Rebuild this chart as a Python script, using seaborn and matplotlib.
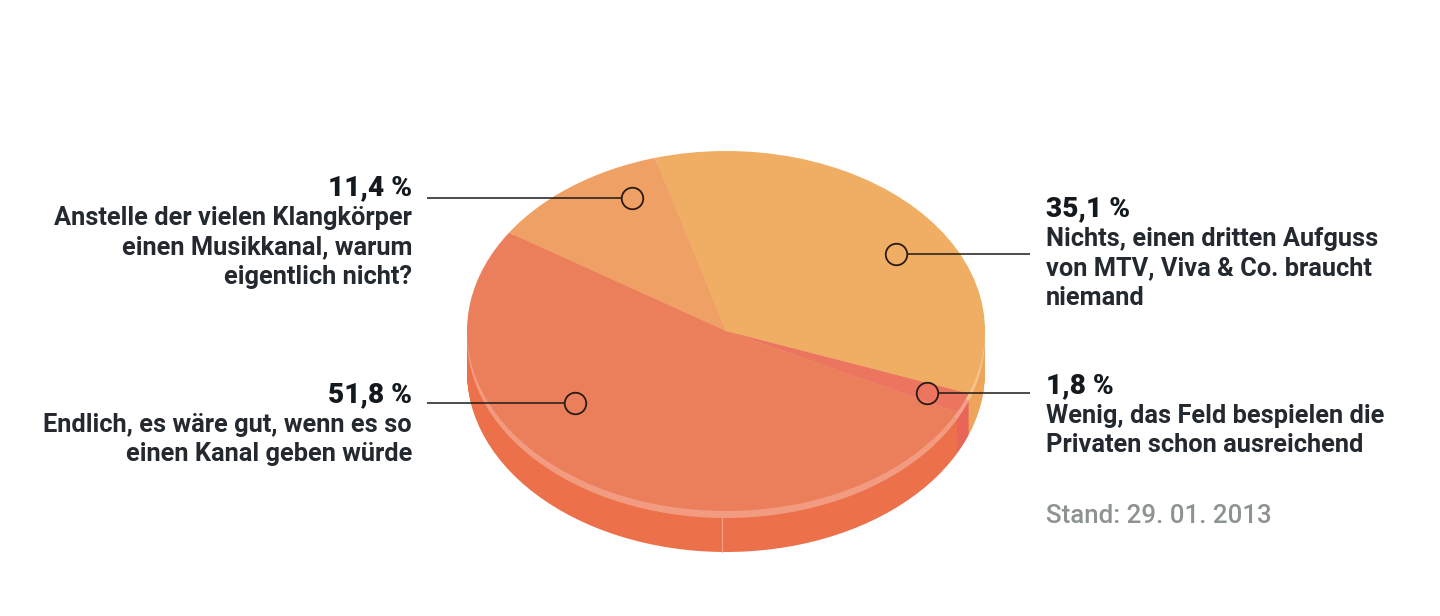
import matplotlib
matplotlib.use("Agg")
import matplotlib.pyplot as plt
import seaborn as sns

categories = ["Nichts, einen dritten Aufguss\nvon MTV, Viva & Co. braucht\nniemand",
              "Wenig, das Feld bespielen die\nPrivaten schon ausreichend",
              "Endlich, es wäre gut, wenn es so\neinen Kanal geben würde",
              "Anstelle der vielen Klangkörper\neinen Musikkanal, warum\neigentlich nicht?"]
values = [35.1, 1.8, 51.8, 11.4]
top_colors = ["#EFAE63", "#EC7560", "#EC7F5B", "#EFA064"]
side_colors = ["#EFA45C", "#E9655A", "#EC7049", "#EC7049"]
lip_colors = ["#F5C38F", "#F4A08A", "#F29B80", "#F29B80"]
note = "Stand: 29. 01. 2013"

sns.set_theme(style="white")
plt.rcParams["font.family"] = ["Roboto", "DejaVu Sans"]

W, H = 1440, 616
CX, CY, RX, RY = 726, 331, 259, 180
DEPTH, LIP = 41, 7
START = 105.9

fig = plt.figure(figsize=(W / 100, H / 100), dpi=100, facecolor="white")
ax = fig.add_axes([0, 0, 1, 1])


def disc(offset, colors):
    wedges, _ = ax.pie(values, colors=colors, startangle=START, counterclock=False,
                       center=(0, -offset / RY), radius=1,
                       wedgeprops={"linewidth": 0}, frame=True)
    return wedges


for off in range(DEPTH, LIP, -1):
    disc(off, side_colors)
disc(LIP, lip_colors)
disc(0, top_colors)

ax.set_aspect("auto")
ax.set_xlim(-CX / RX, (W - CX) / RX)
ax.set_ylim(-(H - CY) / RY, CY / RY)
ax.set_xticks([])
ax.set_yticks([])
for s in ax.spines.values():
    s.set_visible(False)

# overlay in pixel coordinates for annotation
ov = fig.add_axes([0, 0, 1, 1], facecolor="none")
ov.set_xlim(0, W)
ov.set_ylim(H, 0)
ov.axis("off")

# seam on the side of the disc
ov.plot([722, 722], [518, 552], color="#F3A58C", lw=0.8)

INK = "#23292F"
FS = 18.3
FP = 20.2


def pct(v):
    return f"{v:.1f}".replace(".", ",") + " %"


def block(x, y, ha, v, text):
    ov.text(x, y + 1, pct(v), ha=ha, va="center", fontsize=FP, fontweight="black", color="#14191E")
    for i, line in enumerate(text.split("\n")):
        ov.text(x, y + 31 + 29.5 * i, line, ha=ha, va="center", fontsize=FS,
                fontweight="semibold", color=INK)


block(1046, 208, "left", values[0], categories[0])
block(1046, 385, "left", values[1], categories[1])
block(412, 394, "right", values[2], categories[2])
block(412, 187, "right", values[3], categories[3])
ov.text(1046, 516, note, ha="left", va="center", fontsize=18.6, fontweight="medium", color="#8D9293")

for (x0, x1, y, cx) in [(907, 1030, 254, 896), (938, 1030, 393, 927),
                        (427, 564, 403, 575), (427, 621, 198, 632)]:
    ov.plot([x0, x1], [y, y], color="#1E1A18", lw=1.1, solid_capstyle="butt")
    ov.plot([cx], [y], marker="o", ms=15.5, mfc="none", mec="#2A1A14", mew=1.3)

fig.savefig("out.png", dpi=100, facecolor="white")
